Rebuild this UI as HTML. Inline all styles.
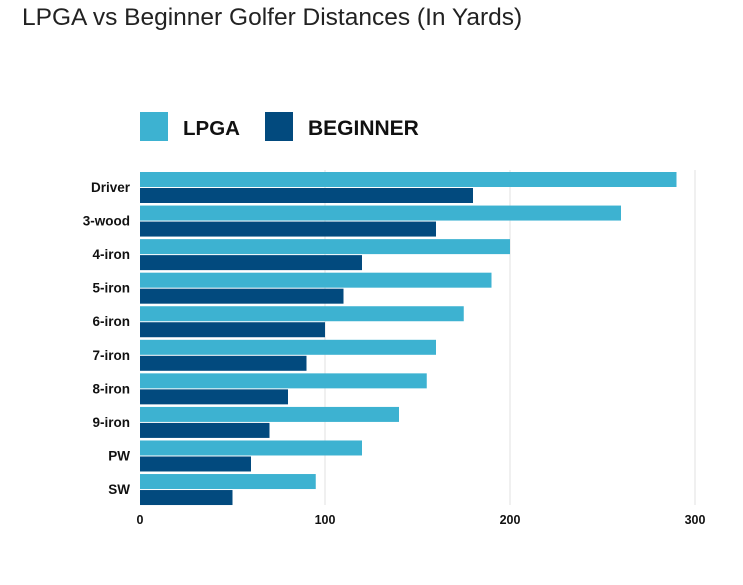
<!DOCTYPE html>
<html><head><meta charset="utf-8"><style>
body{margin:0;background:#fff;width:743px;height:580px;overflow:hidden;font-family:"Liberation Sans",sans-serif}
</style></head><body>
<svg width="743" height="580">
<text x="22" y="25" font-size="24.5" fill="#222">LPGA vs Beginner Golfer Distances (In Yards)</text>
<rect x="140" y="112" width="28" height="29" fill="#3db2d1"/>
<text x="183" y="135" font-size="20.5" font-weight="bold" fill="#111">LPGA</text>
<rect x="265" y="112" width="28" height="29" fill="#024a7e"/>
<text x="308" y="135" font-size="21" font-weight="bold" fill="#111">BEGINNER</text>
<g id="plot"></g>
</svg>
<script>
const categories=["Driver","3-wood","4-iron","5-iron","6-iron","7-iron","8-iron","9-iron","PW","SW"];
const lpga=[290,260,200,190,175,160,155,140,120,95];
const beginner=[180,160,120,110,100,90,80,70,60,50];
const ticks=[0,100,200,300];
const NS="http://www.w3.org/2000/svg";
const g=document.getElementById('plot');
const x=v=>140+v*1.85;
const rowY=i=>172+i*33.56;
function mk(t,a){const e=document.createElementNS(NS,t);for(const k in a)e.setAttribute(k,a[k]);g.appendChild(e);return e;}
ticks.forEach(t=>{
 if(t>0){const l=mk('line',{x1:x(t),x2:x(t),y1:170,y2:505,stroke:'#e2e2e2','stroke-width':1});
 
 }
 const tx=mk('text',{x:x(t),y:524,'font-size':12.5,'font-weight':'bold','text-anchor':'middle',fill:'#111'});
 tx.textContent=t;
 
 
});
categories.forEach((c,i)=>{
 const y=rowY(i);
 const a=mk('rect',{x:140,y:y,width:x(lpga[i])-140,height:15,fill:'#3db2d1'});
 
 
 const b=mk('rect',{x:140,y:y+16,width:x(beginner[i])-140,height:15,fill:'#024a7e'});
 
 
 const t=mk('text',{x:130,y:y+20,'font-size':13.5,'font-weight':'bold','text-anchor':'end',fill:'#111'});
 t.textContent=c;
 
 
});
</script>
</body></html>
